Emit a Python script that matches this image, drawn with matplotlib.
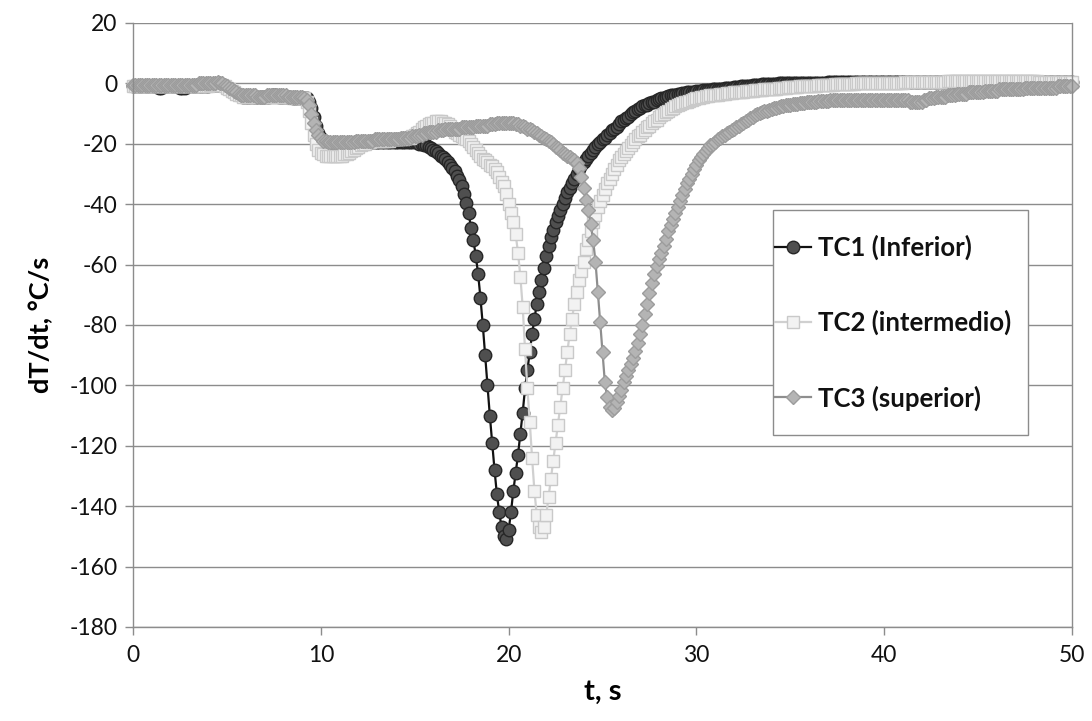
import numpy as np
import matplotlib
matplotlib.use("Agg")
import matplotlib.pyplot as plt
from matplotlib.patches import Rectangle

plt.rcParams['font.family'] = ['Lato', 'DejaVu Sans']
plt.rcParams['axes.unicode_minus'] = False

DT = 0.125  # sampling interval, s

# TC1 (Inferior) dT/dt, one row per second (8 samples each)
tc1 = [
    -1, -1, -1, -1, -1, -1, -1, -1,
    -1, -1, -1, -1.5, -1.5, -1, -1, -1,
    -1, -1, -1, -1, -1.5, -1.5, -1.5, -1,
    -1, -1, -1, -1, -1, -1, -1, -1,
    -1, -0.5, -0.5, -0.5, -0.5, -0.5, -0.5, -1,
    -1.5, -2, -2.5, -3, -3.5, -4, -4, -4.5,
    -4.5, -4.5, -4.5, -4.5, -4.5, -4.5, -4.5, -4.5,
    -4.5, -4.5, -4.5, -4, -4, -4, -4.5, -4.5,
    -4.5, -4.5, -4.5, -4.5, -5, -5, -5, -5,
    -5, -5, -5, -6, -8, -11, -14, -16.5,
    -18, -19, -19.5, -20, -20, -20, -20, -20,
    -20, -20, -20, -20, -20, -20, -20, -20,
    -20, -20, -20, -20, -19.5, -19.5, -19.5, -19.5,
    -19.5, -19.5, -19.5, -19.5, -19.5, -19.5, -19.5, -19.5,
    -19.5, -19.5, -19.5, -19.5, -19.5, -19.5, -19.5, -19.5,
    -19.5, -19.5, -20, -20, -20.5, -20.5, -21, -21.5,
    -22, -22.5, -23, -24, -24.5, -25, -26, -27,
    -28, -29, -30.5, -32, -34, -36.5, -39.5, -43,
    -48, -52, -57, -63, -71, -80, -90, -100,
    -110, -119, -128, -136, -142, -147, -150, -151,
    -148, -142, -135, -129, -123, -116, -109, -101,
    -95, -89, -83, -78, -73, -69, -65, -61,
    -57, -54, -51, -48.5, -46, -44, -42, -40,
    -38, -36, -34.5, -33, -31.5, -30, -28.5, -27,
    -26, -25, -24, -23, -22, -21, -20, -19.5,
    -18.5, -18, -17, -16.5, -15.5, -15, -14.5, -13.5,
    -12.5, -12, -11.5, -11, -10, -9.5, -9, -8.5,
    -8, -7.5, -7, -7, -6.5, -6, -6, -5.5,
    -5.2, -5, -4.7, -4.5, -4.3, -4, -3.8, -3.7,
    -3.6, -3.4, -3.2, -3.1, -3, -2.9, -2.8, -2.7,
    -2.6, -2.5, -2.4, -2.3, -2.2, -2.2, -2.1, -2,
    -2, -1.9, -1.8, -1.7, -1.6, -1.5, -1.5, -1.4,
    -1.3, -1.2, -1.1, -1, -1, -0.9, -0.8, -0.7,
    -0.6, -0.5, -0.5, -0.4, -0.3, -0.3, -0.2, -0.2,
    -0.2, -0.1, -0.1, 0, 0, 0, 0, 0,
    0, 0, 0, 0, 0, 0.2, 0.2, 0.2,
    0.2, 0.2, 0.2, 0.2, 0.2, 0.2, 0.2, 0.2,
    0.3, 0.3, 0.3, 0.3, 0.3, 0.3, 0.3, 0.3,
    0.3, 0.3, 0.3, 0.4, 0.4, 0.4, 0.4, 0.4,
    0.4, 0.4, 0.4, 0.4, 0.4, 0.4, 0.4, 0.4,
    0.4, 0.4, 0.5, 0.5, 0.5, 0.5, 0.5, 0.5,
    0.5, 0.5, 0.5, 0.5, 0.5, 0.5, 0.5, 0.5,
    0.5, 0.5, 0.5, 0.5, 0.5, 0.5, 0.5, 0.5,
    0.5, 0.5, 0.6, 0.6, 0.6, 0.6, 0.6, 0.6,
    0.6, 0.6, 0.6, 0.6, 0.6, 0.6, 0.6, 0.6,
    0.6, 0.6, 0.6, 0.6, 0.6, 0.6, 0.6, 0.6,
    0.6, 0.6, 0.6, 0.6, 0.6, 0.6, 0.6, 0.6,
    0.6, 0.6, 0.6, 0.6, 0.6, 0.6, 0.6, 0.6,
    0.5, 0.5, 0.5, 0.5, 0.5, 0.5, 0.5, 0.5,
    0.5, 0.5, 0.5, 0.5, 0.5, 0.5, 0.5, 0.5,
    0.5,
]

# TC2 (intermedio)
tc2 = [
    -1, -1, -1, -1, -1, -1, -1, -1,
    -1, -1, -1, -1, -1, -1, -1, -1,
    -1, -1, -1, -1, -1, -1, -1, -1,
    -1, -1, -1, -1, -1, -1, -1, -1,
    -1, -0.5, -0.5, -0.5, -0.5, -0.5, -0.5, -1,
    -1.5, -2, -2.5, -3, -3.5, -4, -4, -4.5,
    -4.5, -4.5, -4.5, -4.5, -4.5, -4.5, -4.5, -4.5,
    -4.5, -4.5, -4.5, -4.5, -4.5, -4.5, -4.5, -4.5,
    -4.5, -4.5, -4.5, -4.5, -5, -5, -5, -5,
    -5, -5, -6, -9, -13, -17, -20, -22,
    -23, -23.5, -24, -24, -24, -24, -24, -24,
    -24, -24, -23.5, -23.5, -23, -22.5, -22, -21.5,
    -21, -20.5, -20, -20, -19.5, -19.5, -19, -19,
    -19, -19, -19, -19, -19, -19, -18.5, -18.5,
    -18.5, -18.5, -18.5, -18.5, -18, -18, -18, -17.5,
    -17, -16.5, -16, -15, -14.5, -14, -13.5, -13,
    -13, -12.5, -12.5, -12.5, -13, -13, -13.5, -14,
    -15, -16, -16.5, -17, -17.5, -18, -18.5, -19,
    -20, -21, -22, -23, -24, -25, -25.5, -26,
    -27, -27.5, -28.5, -29.5, -31, -32.5, -34, -36.5,
    -40, -43, -46, -50, -56, -64, -74, -88,
    -101, -112, -124, -135, -143, -147, -148.5, -147,
    -143, -137, -131, -125, -119, -113, -107, -101,
    -95, -89, -83, -78, -73, -69, -65, -62,
    -59, -55, -52, -49, -46, -43.5, -41, -39,
    -37, -35, -33, -31.5, -30, -28.5, -27, -25.5,
    -24.5, -23.5, -22.5, -21.5, -20.5, -19.5, -18.5, -17.5,
    -17, -16, -15.5, -14.5, -14, -13, -12.5, -12,
    -11, -10.5, -10, -9.5, -9, -8.5, -8, -7.5,
    -7, -6.8, -6.5, -6.2, -6, -5.7, -5.5, -5.3,
    -5, -4.8, -4.6, -4.5, -4.3, -4.2, -4, -3.9,
    -3.8, -3.7, -3.6, -3.5, -3.4, -3.3, -3.2, -3.1,
    -3, -2.9, -2.8, -2.8, -2.7, -2.6, -2.5, -2.5,
    -2.4, -2.3, -2.3, -2.2, -2.1, -2, -2, -1.9,
    -1.8, -1.8, -1.7, -1.6, -1.5, -1.5, -1.4, -1.3,
    -1.3, -1.2, -1.2, -1.1, -1, -1, -0.9, -0.9,
    -0.8, -0.8, -0.7, -0.7, -0.6, -0.6, -0.5, -0.5,
    -0.5, -0.4, -0.4, -0.3, -0.3, -0.3, -0.2, -0.2,
    -0.2, -0.1, -0.1, -0.1, 0, 0, 0, 0,
    0, 0, 0, 0, 0, 0, 0, 0,
    0, 0, 0.1, 0.1, 0.1, 0.2, 0.2, 0.2,
    0.2, 0.3, 0.3, 0.3, 0.3, 0.4, 0.4, 0.4,
    0.4, 0.5, 0.5, 0.5, 0.5, 0.5, 0.6, 0.6,
    0.6, 0.6, 0.6, 0.7, 0.7, 0.7, 0.7, 0.7,
    0.7, 0.7, 0.7, 0.7, 0.7, 0.8, 0.8, 0.8,
    0.8, 0.8, 0.8, 0.8, 0.8, 0.8, 0.8, 0.8,
    0.8, 0.8, 0.8, 0.8, 0.7, 0.7, 0.7, 0.7,
    0.7, 0.7, 0.7, 0.7, 0.7, 0.7, 0.7, 0.7,
    0.7, 0.7, 0.6, 0.6, 0.6, 0.6, 0.6, 0.6,
    0.6, 0.6, 0.6, 0.6, 0.5, 0.5, 0.5, 0.5,
    0.5,
]

# TC3 (superior)
tc3 = [
    -0.5, -0.5, -0.5, -0.5, -0.5, -0.5, -0.5, -0.5,
    -0.5, -0.5, -0.5, -0.5, -0.5, -0.5, -0.5, -0.5,
    -0.5, -0.5, -0.5, -0.5, -0.5, -0.5, -0.5, -0.5,
    -0.5, -0.5, -0.5, -0.5, 0, 0, 0, 0,
    0, 0, 0, 0, 0.3, 0, 0, -0.5,
    -1, -1.5, -2, -2.5, -3, -3.5, -4, -4,
    -4, -4, -4, -4, -4, -4.5, -4.5, -4.5,
    -4.5, -4, -4, -4, -4, -4, -4, -4,
    -4, -4, -4.5, -4.5, -4.5, -4.5, -4.5, -4.5,
    -4.5, -5, -5.5, -7, -10, -13, -15.5, -17,
    -18, -19, -19, -19.5, -19.5, -19.5, -19.5, -19.5,
    -19.5, -19.5, -19.5, -19.5, -19.5, -19.5, -19.5, -19,
    -19, -19, -19, -19, -19, -19, -19, -18.5,
    -18.5, -18.5, -18.5, -18.5, -18.5, -18.5, -18.5, -18.5,
    -18.5, -18.5, -18, -18, -18, -18, -18, -17.5,
    -17.5, -17.5, -17, -17, -16.5, -16.5, -16, -16,
    -16, -16, -15.5, -15.5, -15.5, -15, -15, -15,
    -15, -15, -15, -15, -14.5, -14.5, -14.5, -14.5,
    -14.5, -14.5, -14, -14, -14, -14, -14, -14,
    -13.5, -13.5, -13.5, -13, -13, -13, -13, -13,
    -13, -13, -13, -13.5, -13.5, -14, -14, -14.5,
    -15, -15, -15.5, -16, -16.5, -17, -17.5, -18,
    -18.5, -19, -19.5, -20, -21, -21.5, -22, -23,
    -23.5, -24, -24.5, -25, -25.5, -26.5, -28, -31,
    -34.5, -38.5, -42, -46.5, -52, -59, -69, -79,
    -89, -99, -104, -107, -108, -107.5, -105.5, -103.5,
    -101.5, -99, -97, -95, -93, -91, -88.5, -86,
    -83, -80, -76.5, -73, -69.5, -66, -63, -60.5,
    -58, -56, -54, -51.5, -49, -47, -45, -43,
    -41, -39, -37, -35, -33, -31.5, -30, -28.5,
    -27, -25.5, -24.5, -23.5, -22.5, -21.5, -20.5, -20,
    -19.5, -18.5, -18, -17.5, -17, -16.5, -16, -15.5,
    -15, -14.5, -14, -13.5, -13, -12.5, -12, -11.5,
    -11, -10.5, -10, -9.8, -9.5, -9.2, -9, -8.7,
    -8.4, -8.2, -8, -7.8, -7.6, -7.5, -7.3, -7.2,
    -7, -6.9, -6.8, -6.7, -6.6, -6.5, -6.4, -6.3,
    -6.2, -6.1, -6, -6, -5.9, -5.8, -5.8, -5.7,
    -5.7, -5.6, -5.6, -5.5, -5.5, -5.5, -5.5, -5.5,
    -5.5, -5.5, -5.5, -5.5, -5.5, -5.5, -5.5, -5.5,
    -5.5, -5.5, -5.5, -5.5, -5.5, -5.5, -5.5, -5.5,
    -5.5, -5.5, -5.5, -5.5, -5.5, -5.5, -5.5, -5.5,
    -5.5, -5.5, -5.5, -6, -6, -6, -6, -6,
    -6, -5.5, -5.5, -5, -5, -5, -4.5, -4.5,
    -4.5, -4.5, -4.5, -4, -4, -4, -4, -3.5,
    -3.5, -3.5, -3.5, -3.5, -3, -3, -3, -3,
    -3, -3, -3, -2.5, -2.5, -2.5, -2.5, -2.5,
    -2.5, -2, -2, -2, -2, -2, -2, -2,
    -2, -2, -2, -2, -1.5, -1.5, -1.5, -1.5,
    -1.5, -1.5, -1.5, -1.5, -1.5, -1.5, -1.5, -1.5,
    -1.5, -1.5, -1, -1, -1, -1, -1, -1,
    -1,
]

labels = ["TC1 (Inferior)", "TC2 (intermedio)", "TC3 (superior)"]
x_ticks = [0, 10, 20, 30, 40, 50]
y_ticks = [20, 0, -20, -40, -60, -80, -100, -120, -140, -160, -180]

t = np.arange(len(tc1)) * DT

fig = plt.figure(figsize=(10.92, 7.21), dpi=100)
ax = fig.add_axes([0.1218, 0.1304, 0.8599, 0.8377])

styles = [
    dict(marker='o', ms=9, mfc='#4f4f4f', mec='#262626', mew=1.0, color='#111111', lw=1.6),
    dict(marker='s', ms=8, mfc='#f2f2f2', mec='#c9c9c9', mew=1.0, color='#d0d0d0', lw=1.6),
    dict(marker='D', ms=7.4, mfc='#b4b4b4', mec='#9c9c9c', mew=1.0, color='#8e8e8e', lw=1.6),
]
for y, lab, st in zip([tc1, tc2, tc3], labels, styles):
    ax.plot(t, y, label=lab, clip_on=False, **st)

ax.set_xlim(0, 50)
ax.set_ylim(-180, 20)
ax.set_xticks(x_ticks)
ax.set_yticks(y_ticks)
ax.grid(axis='y', color='#8c8c8c', lw=1.0)
ax.set_axisbelow(True)
for s in ['left', 'bottom', 'right']:
    ax.spines[s].set_color('#8c8c8c')
    ax.spines[s].set_linewidth(1.0)
ax.spines['top'].set_visible(False)
ax.tick_params(axis='both', direction='out', color='#8c8c8c', length=6, width=1.0,
               labelsize=16.5, labelcolor='#111111', pad=5)
ax.tick_params(axis='x', pad=7)

ax.set_xlabel('t, s', fontsize=21, fontweight='bold', labelpad=9)
ax.set_ylabel('dT/dt, °C/s', fontsize=19.5, fontweight='bold', labelpad=12)

# legend frame drawn separately (axes fraction)
ax.add_patch(Rectangle((0.6816, 0.3174), 0.2716, 0.373, transform=ax.transAxes,
                       facecolor='white', edgecolor='#8c8c8c', lw=1.0, zorder=4,
                       clip_on=False))
leg = ax.legend(loc='upper left', bbox_to_anchor=(0.658, 0.6904),
                prop={'weight': 'bold', 'size': 18.5}, frameon=False,
                borderpad=0.95, labelspacing=1.95, handlelength=1.4,
                handletextpad=0.27, borderaxespad=0.0)
leg.set_zorder(5)
for txt in leg.get_texts():
    txt.set_color('#111111')

fig.savefig('out.png', dpi=100)
